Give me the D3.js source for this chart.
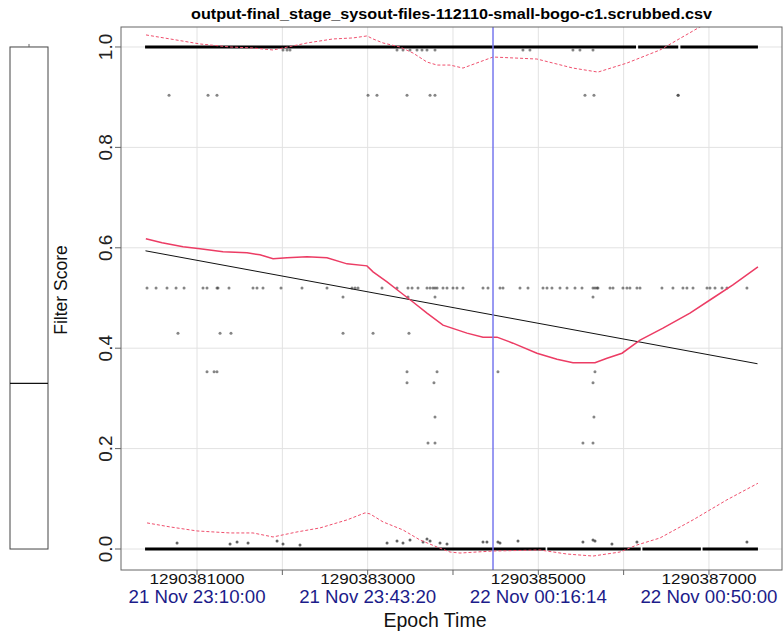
<!DOCTYPE html>
<html>
<head>
<meta charset="utf-8">
<script src="https://cdn.jsdelivr.net/npm/d3@7"></script>
<style>
body { margin: 0; background: #fff; }
text { font-family: "Liberation Sans", Arial, sans-serif; }
</style>
</head>
<body>
<script>
var title = "output-final_stage_sysout-files-112110-small-bogo-c1.scrubbed.csv"

// axis ticks
var xTicks       = [1290381000, 1290382000, 1290383000, 1290384000, 1290385000, 1290386000, 1290387000]
var xLabels      = ["1290381000", "", "1290383000", "", "1290385000", "", "1290387000"]
var xDateLabels  = ["21 Nov 23:10:00", "", "21 Nov 23:43:20", "", "22 Nov 00:16:14", "", "22 Nov 00:50:00"]
var yTicks       = [0, 0.2, 0.4, 0.6, 0.8, 1.0]
var yLabels      = ["0.0", "0.2", "0.4", "0.6", "0.8", "1.0"]

// dense rows of overlapping points, as [start, end] epoch runs
var topRuns    = [[1290380391, 1290386145], [1290386170, 1290386640], [1290386665, 1290387574]]
var bottomRuns = [[1290380391, 1290385085], [1290385105, 1290386200], [1290386220, 1290386905], [1290386925, 1290387574]]

// sparse points, by score level
var pts090 = [1290380672, 1290381129, 1290381234, 1290383004, 1290383109, 1290383461, 1290383731, 1290383789, 1290385547, 1290385652, 1290386637, 1290386640]
var pts052 = [1290380414, 1290380520, 1290380648, 1290380754, 1290380848, 1290381070, 1290381117, 1290381234, 1290381246, 1290381375,
              1290381656, 1290381703, 1290381773, 1290381984, 1290382230, 1290382523, 1290382816, 1290382852, 1290382887, 1290383168,
              1290383344, 1290383473, 1290383520, 1290383590, 1290383695, 1290383731, 1290383766, 1290383789, 1290383813, 1290383883,
              1290383930, 1290384000, 1290384047, 1290384117, 1290384352, 1290384410, 1290384551, 1290384586, 1290384785, 1290384879,
              1290385055, 1290385102, 1290385160, 1290385254, 1290385336, 1290385430, 1290385512, 1290385641, 1290385664, 1290385688,
              1290385699, 1290385840, 1290385875, 1290385992, 1290386039, 1290386074, 1290386156, 1290386192, 1290386449, 1290386578,
              1290386695, 1290386742, 1290386813, 1290386977, 1290387012, 1290387071, 1290387153, 1290387211, 1290387445]
var pts050 = [1290382711, 1290383473, 1290383789, 1290385641]
var pts043 = [1290380777, 1290381270, 1290381398, 1290382711, 1290383063, 1290383484]
var pts035 = [1290381117, 1290381200, 1290381234, 1290383461, 1290383813, 1290384527, 1290385664]
var pts033 = [1290383461, 1290383777, 1290385641]
var pts026 = [1290383789, 1290385652]
var pts021 = [1290383707, 1290383789, 1290385523, 1290385641]
var ptsNearOne = [1290382008, 1290382055, 1290382090, 1290383344, 1290383414, 1290383496, 1290383578, 1290383637, 1290383695,
                  1290383789, 1290384820, 1290384902, 1290385406, 1290385488, 1290385641]
var ptsNearZero = [[1290380766, 0.012], [1290381387, 0.010], [1290381469, 0.014], [1290381598, 0.012], [1290381938, 0.016],
                   [1290382008, 0.010], [1290382207, 0.008], [1290383227, 0.012], [1290383344, 0.016], [1290383414, 0.012],
                   [1290383496, 0.018], [1290383649, 0.014], [1290383695, 0.020], [1290383731, 0.016], [1290383848, 0.012],
                   [1290383930, 0.010], [1290384352, 0.014], [1290384398, 0.014], [1290384527, 0.014], [1290384551, 0.012],
                   [1290384762, 0.016], [1290385523, 0.014], [1290385641, 0.018], [1290385664, 0.016], [1290385863, 0.010],
                   [1290386156, 0.014], [1290387445, 0.014]]

// loess fit and its confidence band
var loessX = [1290380400, 1290380590, 1290380836, 1290381035, 1290381305, 1290381586, 1290381738, 1290381891, 1290382055, 1290382289,
              1290382523, 1290382758, 1290382992, 1290383063, 1290383227, 1290383379, 1290383531, 1290383695, 1290383883, 1290384164,
              1290384352, 1290384516, 1290384703, 1290384984, 1290385219, 1290385406, 1290385664, 1290385805, 1290385981, 1290386192,
              1290386461, 1290386777, 1290387047, 1290387281, 1290387574]
var loessY = [0.618, 0.610, 0.602, 0.598, 0.592, 0.590, 0.586, 0.578, 0.580, 0.582,
              0.580, 0.568, 0.564, 0.552, 0.532, 0.512, 0.492, 0.470, 0.446, 0.430,
              0.422, 0.422, 0.410, 0.390, 0.378, 0.371, 0.371, 0.380, 0.390, 0.416,
              0.440, 0.470, 0.500, 0.526, 0.562]

var upperX = [1290380402, 1290380684, 1290381035, 1290381387, 1290381656, 1290381891, 1290382008, 1290382289, 1290382594, 1290382828,
              1290382992, 1290383063, 1290383180, 1290383379, 1290383531, 1290383695, 1290383813, 1290383965, 1290384117, 1290384469,
              1290384984, 1290385406, 1290385699, 1290386039, 1290386426, 1290386895, 1290387574]
var upperY = [1.024, 1.016, 1.006, 1.000, 0.998, 0.994, 0.998, 1.008, 1.016, 1.018,
              1.022, 1.016, 1.008, 1.000, 0.988, 0.970, 0.964, 0.964, 0.958, 0.980,
              0.976, 0.958, 0.950, 0.968, 0.994, 1.040, 1.105]

var lowerX = [1290380414, 1290380684, 1290381000, 1290381387, 1290381656, 1290381891, 1290382172, 1290382441, 1290382758, 1290382969,
              1290383027, 1290383180, 1290383414, 1290383613, 1290383813, 1290383965, 1290384082, 1290384469, 1290385020, 1290385336,
              1290385641, 1290385957, 1290386156, 1290386426, 1290386813, 1290387211, 1290387574]
var lowerY = [0.052, 0.044, 0.036, 0.032, 0.032, 0.024, 0.034, 0.042, 0.058, 0.072,
              0.070, 0.054, 0.038, 0.018, 0.004, -0.006, -0.008, -0.004, -0.002, -0.010,
              -0.014, -0.006, 0.008, 0.022, 0.058, 0.098, 0.131]

// linear fit end points
var lmX = [1290380396, 1290387569]
var lmY = [0.594, 0.369]

// marked moment
var markerTime = [1290384469]

// box plot of all scores: min, q1, median, q3, max
var boxStats = [0, 0, 0.33, 1, 1]

var width = 784, height = 637
var plot = {left: 121, right: 782, top: 27, bottom: 570}

var svg = d3.select("body").append("svg")
    .attr("width", width)
    .attr("height", height)

var x = d3.scaleLinear().domain([1290380109, 1290387856]).range([plot.left, plot.right])
var y = d3.scaleLinear().domain([-0.0418, 1.0398]).range([plot.bottom, plot.top])

svg.append("clipPath").attr("id", "clip")
  .append("rect")
    .attr("x", plot.left).attr("y", plot.top)
    .attr("width", plot.right - plot.left).attr("height", plot.bottom - plot.top)

// grid
svg.selectAll(".vgrid").data(xTicks).enter().append("line")
    .attr("x1", d => x(d)).attr("x2", d => x(d))
    .attr("y1", plot.top).attr("y2", plot.bottom)
    .style("stroke", "#e2e2e2").style("stroke-width", 1)
svg.selectAll(".hgrid").data(yTicks).enter().append("line")
    .attr("x1", plot.left).attr("x2", plot.right)
    .attr("y1", d => y(d)).attr("y2", d => y(d))
    .style("stroke", "#e2e2e2").style("stroke-width", 1)

var g = svg.append("g").attr("clip-path", "url(#clip)")

// dense rows
function runs(data, level) {
    g.selectAll(null).data(data).enter().append("line")
        .attr("x1", d => x(d[0])).attr("x2", d => x(d[1]))
        .attr("y1", y(level)).attr("y2", y(level))
        .style("stroke", "#000").style("stroke-width", 3.2)
}
runs(topRuns, 1)
runs(bottomRuns, 0)

// sparse points
function dots(data, level) {
    g.selectAll(null).data(data).enter().append("circle")
        .attr("cx", d => x(d)).attr("cy", y(level)).attr("r", 1.5)
        .style("fill", "#333").style("fill-opacity", 0.6)
}
dots(pts090, 0.904)
dots(pts052, 0.520)
dots(pts050, 0.502)
dots(pts043, 0.430)
dots(pts035, 0.353)
dots(pts033, 0.331)
dots(pts026, 0.263)
dots(pts021, 0.211)
dots(ptsNearOne, 0.994)
g.selectAll(null).data(ptsNearZero).enter().append("circle")
    .attr("cx", d => x(d[0])).attr("cy", d => y(d[1])).attr("r", 1.5)
    .style("fill", "#222").style("fill-opacity", 0.7)

// fitted lines
function path(xs, ys, color, w, dash) {
    var line = d3.line().x(d => x(d[0])).y(d => y(d[1]))
    g.append("path")
        .attr("d", line(xs.map((v, i) => [v, ys[i]])))
        .style("fill", "none")
        .style("stroke", color)
        .style("stroke-width", w)
        .style("stroke-dasharray", dash)
}
path(lmX, lmY, "#111", 1, null)
path(upperX, upperY, "#f0506e", 1, "3,2")
path(lowerX, lowerY, "#f0506e", 1, "3,2")
path(loessX, loessY, "#ec3c64", 1.5, null)

g.selectAll(null).data(markerTime).enter().append("line")
    .attr("x1", d => x(d)).attr("x2", d => x(d))
    .attr("y1", plot.top).attr("y2", plot.bottom)
    .style("stroke", "#7777ee").style("stroke-width", 1.5)

// frame
svg.append("rect")
    .attr("x", plot.left).attr("y", plot.top)
    .attr("width", plot.right - plot.left).attr("height", plot.bottom - plot.top)
    .style("fill", "none").style("stroke", "#666").style("stroke-width", 1)

// x axis
svg.selectAll(".xtick").data(xTicks).enter().append("line")
    .attr("x1", d => x(d)).attr("x2", d => x(d))
    .attr("y1", plot.bottom).attr("y2", plot.bottom + 5)
    .style("stroke", "#666")
svg.selectAll(".xlab").data(xTicks.filter((d, i) => xLabels[i])).enter().append("text")
    .attr("x", d => x(d)).attr("y", 583.5)
    .attr("text-anchor", "middle")
    .attr("textLength", 95).attr("lengthAdjust", "spacingAndGlyphs")
    .style("font-size", "15px").style("fill", "#111")
    .text(d => xLabels[xTicks.indexOf(d)])
svg.selectAll(".xdate").data(xTicks.filter((d, i) => xDateLabels[i])).enter().append("text")
    .attr("x", d => x(d)).attr("y", 603)
    .attr("text-anchor", "middle")
    .attr("textLength", 137).attr("lengthAdjust", "spacingAndGlyphs")
    .style("font-size", "17.5px").style("fill", "#1c1c8a")
    .text(d => xDateLabels[xTicks.indexOf(d)])

// y axis
svg.selectAll(".ytick").data(yTicks).enter().append("line")
    .attr("x1", plot.left - 6).attr("x2", plot.left)
    .attr("y1", d => y(d)).attr("y2", d => y(d))
    .style("stroke", "#666")
svg.selectAll(".ylab").data(yTicks).enter().append("text")
    .attr("transform", d => "translate(112," + y(d) + ") rotate(-90)")
    .attr("text-anchor", "middle")
    .style("font-size", "19px").style("fill", "#222")
    .text((d, i) => yLabels[i])

// box plot in the margin
var bx = 10, bw = 38
svg.append("rect")
    .attr("x", bx).attr("y", y(boxStats[3]))
    .attr("width", bw).attr("height", y(boxStats[1]) - y(boxStats[3]))
    .style("fill", "none").style("stroke", "#444")
svg.append("line")
    .attr("x1", bx).attr("x2", bx + bw)
    .attr("y1", y(boxStats[2])).attr("y2", y(boxStats[2]))
    .style("stroke", "#111").style("stroke-width", 1.2)
svg.append("line")
    .attr("x1", bx + bw / 2).attr("x2", bx + bw / 2)
    .attr("y1", y(boxStats[4]) - 3).attr("y2", y(boxStats[4]))
    .style("stroke", "#666")

// titles
svg.append("text")
    .attr("x", (plot.left + plot.right) / 2).attr("y", 19)
    .attr("text-anchor", "middle")
    .attr("textLength", 521).attr("lengthAdjust", "spacingAndGlyphs")
    .style("font-size", "15px").style("font-weight", "bold")
    .text(title)
svg.append("text")
    .attr("x", 435).attr("y", 627)
    .attr("text-anchor", "middle")
    .style("font-size", "19.5px").style("fill", "#111")
    .text("Epoch Time")
svg.append("text")
    .attr("transform", "translate(67,290) rotate(-90)")
    .attr("text-anchor", "middle")
    .style("font-size", "17.5px").style("fill", "#111")
    .text("Filter Score")
</script>
</body>
</html>
